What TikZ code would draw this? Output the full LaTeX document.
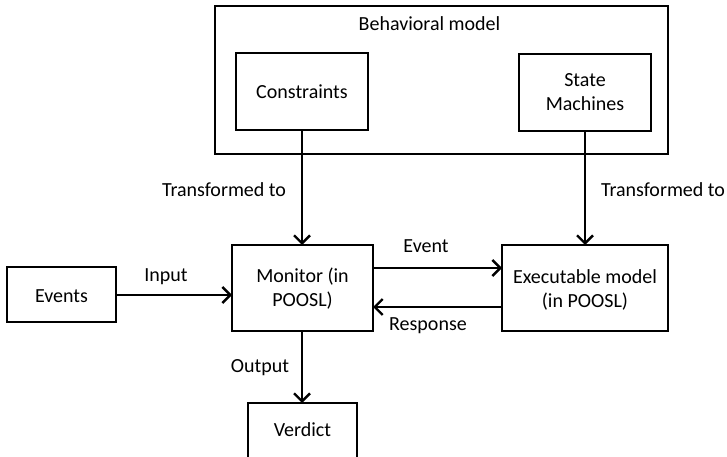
\documentclass[tikz,border=0pt]{standalone}
\usepackage{fontspec}
\setmainfont{Carlito}
\usetikzlibrary{arrows.meta}
\begin{document}
\begin{tikzpicture}[x=1pt,y=-1pt,
  every node/.style={font=\fontsize{20}{24}\selectfont, inner sep=0pt},
  box/.style={draw, line width=2.4pt},
  conn/.style={line width=2.4pt, -{Straight Barb[length=8pt,width=16pt,line width=2.4pt]}},
  lbl/.style={}]
\useasboundingbox (0,0) rectangle (727,457);
% boxes
\draw[box] (215,6) rectangle (668,154);
\node (bm) at (429.5,24) {Behavioral model};
\draw[box] (236,53) rectangle (368,130);
\node (cons) at (302,92) {Constraints};
\coordinate (consB) at (302,130);
\draw[box] (519,54) rectangle (651,131);
\node[align=center] (sm) at (585,92) {State\\Machines};
\coordinate (smB) at (585,131);

\draw[box] (232,245) rectangle (373,331);
\node[align=center] (mon) at (302.5,289) {Monitor (in\\POOSL)};
\coordinate (monT) at (302,245);
\coordinate (monB) at (302,331);
\coordinate (monL) at (232,295);
\coordinate (monR1) at (373,268);
\coordinate (monR2) at (373,307);

\draw[box] (502,245) rectangle (668,331);
\node[align=center] (exe) at (585,289.5) {Executable model\\(in POOSL)};
\coordinate (exeT) at (585,245);
\coordinate (exeL1) at (502,268);
\coordinate (exeL2) at (502,307);

\draw[box] (7,267) rectangle (116,322);
\node (ev) at (61.5,296) {Events};
\coordinate (evR) at (116,295);

\draw[box] (248,403) rectangle (357,460);
\node (ver) at (302.5,430) {Verdict};
\coordinate (verT) at (302,403);

% connectors
\draw[conn] (consB) -- (monT);
\draw[conn] (smB) -- (exeT);
\draw[conn] (evR) -- (monL);
\draw[conn] (monR1) -- (exeL1);
\draw[conn] (exeL2) -- (monR2);
\draw[conn] (monB) -- (verT);

% labels
\node (t1) at (224,190) {Transformed to};
\node (t2) at (663,190) {Transformed to};
\node (in) at (166,277) {Input};
\node (evt) at (426,246) {Event};
\node (resp) at (428,326) {Response};
\node (out) at (260,368) {Output};
\end{tikzpicture}
\end{document}
